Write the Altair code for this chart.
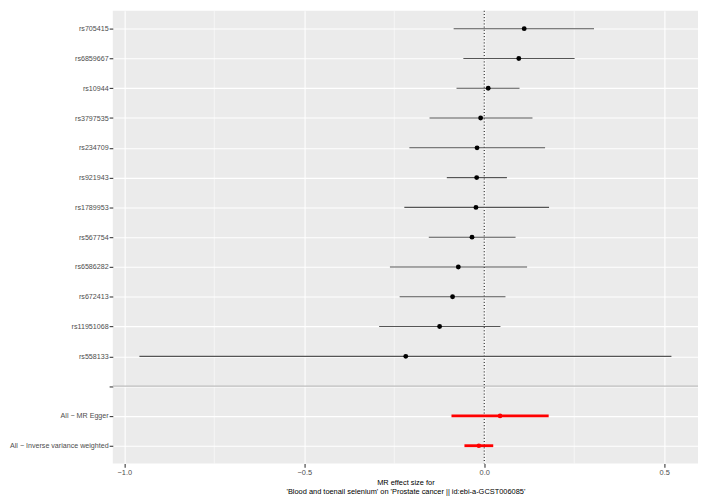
import altair as alt
import pandas as pd

# ---- data ----
snps = ["rs705415", "rs6859667", "rs10944", "rs3797535", "rs234709", "rs921943",
        "rs1789953", "rs567754", "rs6586282", "rs672413", "rs11951068", "rs558133"]
snp_b = [0.111, 0.096, 0.011, -0.010, -0.020, -0.021, -0.023, -0.034, -0.072, -0.088, -0.124, -0.218]
snp_lo = [-0.085, -0.058, -0.077, -0.152, -0.208, -0.104, -0.222, -0.154, -0.262, -0.235, -0.292, -0.958]
snp_hi = [0.305, 0.251, 0.098, 0.134, 0.169, 0.063, 0.180, 0.087, 0.119, 0.059, 0.045, 0.520]

methods = ["All \u2212 MR Egger", "All \u2212 Inverse variance weighted"]
meth_b = [0.044, -0.015]
meth_lo = [-0.091, -0.055]
meth_hi = [0.179, 0.025]

sep_label = ""
rows = snps + [sep_label] + methods

x_ticks = [-1.0, -0.5, 0.0, 0.5]
x_minor = [-0.75, -0.25, 0.25]
null_line = [0.0]

x_title = ["MR effect size for",
           "'Blood and toenail selenium' on 'Prostate cancer || id:ebi-a-GCST006085'"]

# ---- frames ----
snp_df = pd.DataFrame({"row": snps, "b": snp_b, "lo": snp_lo, "hi": snp_hi})
meth_df = pd.DataFrame({"row": methods, "b": meth_b, "lo": meth_lo, "hi": meth_hi})
sep_df = pd.DataFrame({"row": [sep_label]})
minor_df = pd.DataFrame({"v": x_minor})
null_df = pd.DataFrame({"v": null_line})

all_lo = min(snp_lo + meth_lo)
all_hi = max(snp_hi + meth_hi)
pad = 0.05 * (all_hi - all_lo)
xdom = [all_lo - pad, all_hi + pad]

FONT = "Liberation Sans"

xscale = alt.Scale(domain=xdom, nice=False, zero=False)
yscale = alt.Scale(type="point", domain=rows, padding=0.6)

x_axis = alt.Axis(values=x_ticks, title=x_title,
                  labelExpr="replace(format(datum.value, '.1f'), '-', '\u2212')")
y_axis = alt.Axis(title=None)

minor = alt.Chart(minor_df).mark_rule(color="white", strokeWidth=0.55).encode(
    x=alt.X("v:Q", scale=xscale, axis=x_axis)
)

sep = alt.Chart(sep_df).mark_rule(color="#BEBEBE", strokeWidth=1.07).encode(
    y=alt.Y("row:N", scale=yscale, axis=y_axis)
)

null = alt.Chart(null_df).mark_rule(color="black", strokeWidth=1, strokeDash=[1, 2.2]).encode(
    x=alt.X("v:Q", scale=xscale, axis=x_axis)
)

snp_bars = alt.Chart(snp_df).mark_rule(color="#555555", strokeWidth=1.1).encode(
    x=alt.X("lo:Q", scale=xscale, axis=x_axis), x2="hi:Q",
    y=alt.Y("row:N", scale=yscale, axis=y_axis)
)
snp_pts = alt.Chart(snp_df).mark_circle(color="black", size=24, opacity=1).encode(
    x=alt.X("b:Q", scale=xscale, axis=x_axis),
    y=alt.Y("row:N", scale=yscale, axis=y_axis)
)
meth_bars = alt.Chart(meth_df).mark_rule(color="#FF0000", strokeWidth=2.85).encode(
    x=alt.X("lo:Q", scale=xscale, axis=x_axis), x2="hi:Q",
    y=alt.Y("row:N", scale=yscale, axis=y_axis)
)
meth_pts = alt.Chart(meth_df).mark_circle(color="#FF0000", size=22, opacity=1).encode(
    x=alt.X("b:Q", scale=xscale, axis=x_axis),
    y=alt.Y("row:N", scale=yscale, axis=y_axis)
)

chart = alt.layer(minor, sep, null, snp_bars, snp_pts, meth_bars, meth_pts).properties(
    width=592, height=458,
    autosize=alt.AutoSizeParams(type="none"),
    padding={"left": 106, "top": 0, "right": 2, "bottom": 32},
    background="white",
).configure_view(
    fill="#EBEBEB", stroke=None
).configure_axis(
    domain=False,
    grid=True, gridColor="white", gridWidth=1.07,
    ticks=True, tickColor="#333333", tickSize=3.7, tickWidth=1.07,
    labelFont=FONT, labelFontSize=7.5, labelColor="#4D4D4D",
    titleFont=FONT, titleFontSize=7.5, titleColor="black", titleFontWeight="normal",
).configure_axisX(
    labelPadding=1.2, titlePadding=3, titleLineHeight=8.5,
).configure_axisY(
    labelPadding=1, labelFontSize=7.2,
)

chart.save("out.html", embed_options={"renderer": "svg", "actions": False})
